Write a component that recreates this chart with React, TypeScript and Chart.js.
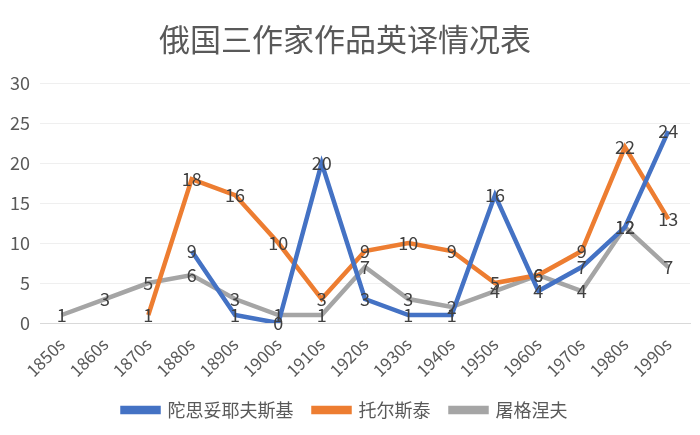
import React, { useEffect, useRef } from "react";
import { Chart, registerables } from "chart.js";
Chart.register(...registerables);

const categories = ["1850s", "1860s", "1870s", "1880s", "1890s", "1900s", "1910s", "1920s", "1930s", "1940s", "1950s", "1960s", "1970s", "1980s", "1990s"];
const dostoevsky = [null, null, null, 9, 1, 0, 20, 3, 1, 1, 16, 4, 7, 12, 24];
const tolstoy = [null, null, 1, 18, 16, 10, 3, 9, 10, 9, 5, 6, 9, 22, 13];
const turgenev = [1, 3, 5, 6, 3, 1, 1, 7, 3, 2, 4, 6, 4, 12, 7];
const seriesNames = ["陀思妥耶夫斯基", "托尔斯泰", "屠格涅夫"];
const seriesColors = ["#4472C4", "#ED7D31", "#A5A5A5"];
const titleText = "俄国三作家作品英译情况表";
const yMax = 30;
const yStep = 5;

const FONT = "'Noto Sans CJK SC', 'Noto Sans', sans-serif";

const labelPlugin = {
  id: "pointLabels",
  afterDatasetsDraw(chart: any) {
    const ctx = chart.ctx;
    ctx.save();
    ctx.font = `18px ${FONT}`;
    ctx.fillStyle = "#404040";
    ctx.textAlign = "center";
    ctx.textBaseline = "middle";
    chart.data.datasets.forEach((ds: any, i: number) => {
      const meta = chart.getDatasetMeta(i);
      meta.data.forEach((pt: any, j: number) => {
        const v = ds.data[j];
        if (v === null || v === undefined) return;
        ctx.fillText(String(v), pt.x, pt.y);
      });
    });
    ctx.restore();
  },
};

export default function App() {
  const ref = useRef<HTMLCanvasElement>(null);
  useEffect(() => {
    const seriesData = [dostoevsky, tolstoy, turgenev];
    const chart = new Chart(ref.current!, {
      type: "line",
      data: {
        labels: categories,
        datasets: seriesData.map((d, i) => ({
          label: seriesNames[i],
          data: d,
          borderColor: seriesColors[i],
          backgroundColor: seriesColors[i],
          borderWidth: 4.5,
          pointRadius: 0,
          pointHoverRadius: 0,
          tension: 0,
          spanGaps: false,
        })),
      },
      options: {
        animation: false,
        responsive: true,
        maintainAspectRatio: false,
        layout: { padding: { left: 0, right: 10, top: 21, bottom: 6 } },
        plugins: {
          title: {
            display: true,
            text: titleText,
            color: "#595959",
            font: { family: FONT, size: 31, weight: "normal" },
            padding: { top: 0, bottom: 25 },
          },
          legend: {
            position: "bottom",
            labels: {
              color: "#595959",
              font: { family: FONT, size: 18 },
              boxWidth: 36,
              boxHeight: 4,
              padding: 20,
            },
          },
          tooltip: { enabled: false },
        },
        scales: {
          x: {
            offset: true,
            grid: { display: false },
            border: { color: "#D9D9D9", width: 1 },
            ticks: {
              color: "#595959",
              font: { family: FONT, size: 17 },
              maxRotation: 45,
              minRotation: 45,
              autoSkip: false,
            },
            afterFit: (s: any) => { s.height = 58; },
          },
          y: {
            min: 0,
            max: yMax,
            ticks: {
              stepSize: yStep,
              color: "#595959",
              font: { family: FONT, size: 18 },
              padding: 10,
            },
            grid: { color: "#EFEFEF", drawTicks: false },
            border: { display: false },
            afterFit: (s: any) => { s.width = 40; },
          },
        },
      },
      plugins: [labelPlugin],
    });
    return () => chart.destroy();
  }, []);
  return (
    <div style={{ position: "absolute", left: 0, top: 0, width: 700, height: 435, background: "#fff" }}>
      <canvas ref={ref} />
    </div>
  );
}
